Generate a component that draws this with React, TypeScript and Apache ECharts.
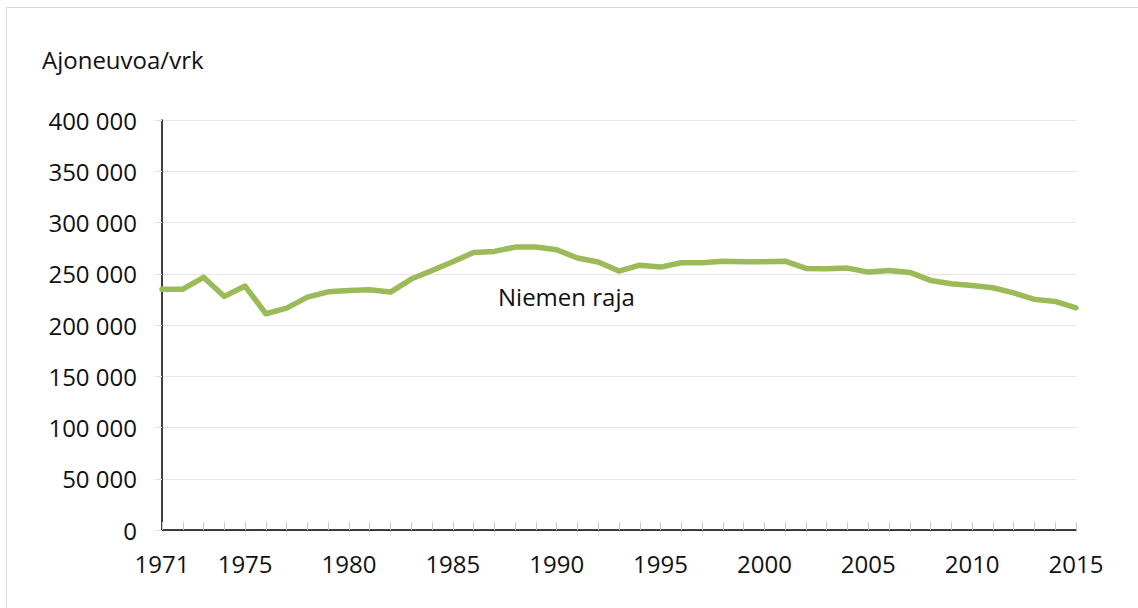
import React, { useEffect, useRef } from "react";
import * as echarts from "echarts";

const years: string[] = [];
for (let y = 1971; y <= 2015; y++) years.push(String(y));

const niemenRaja: number[] = [
  235000, 235000, 246500, 227900, 238000, 211000, 216500, 227200, 232400, 233700,
  234400, 232100, 244800, 253200, 261700, 270800, 271800, 276000, 276000, 273400,
  265300, 261400, 252600, 258400, 256500, 260700, 260700, 262300, 261700, 261700,
  262300, 255200, 254900, 255500, 251600, 253200, 251300, 243500, 240200, 238600,
  236300, 231400, 225000, 223000, 216800,
];

const seriesName = "Niemen raja";
const yAxisTitle = "Ajoneuvoa/vrk";

const FONT = "'Open Sans', 'Noto Sans', sans-serif";
const TEXT = "#111111";

function fmt(v: number): string {
  return String(v).replace(/\B(?=(\d{3})+(?!\d))/g, " ");
}

export default function App() {
  const ref = useRef<HTMLDivElement>(null);
  useEffect(() => {
    if (!ref.current) return;
    const chart = echarts.init(ref.current, undefined, { renderer: "svg" });
    chart.setOption({
      animation: false,
      backgroundColor: "#ffffff",
      grid: { left: 162, right: 62, top: 120, bottom: 78, containLabel: false },
      graphic: [
        {
          type: "rect",
          shape: { x: 6.5, y: 7.5, width: 1200, height: 700 },
          style: { fill: "none", stroke: "#d9d9d9", lineWidth: 1 },
          silent: true,
        },
        {
          type: "text",
          left: 42,
          top: 47,
          style: { text: yAxisTitle, font: `24px ${FONT}`, fill: TEXT },
        },
        {
          type: "text",
          left: 498,
          top: 284,
          style: { text: seriesName, font: `24px ${FONT}`, fill: TEXT },
        },
      ],
      xAxis: {
        type: "category",
        data: years,
        boundaryGap: false,
        axisLine: { show: true, lineStyle: { color: "#000000", width: 1.5 } },
        axisTick: {
          show: true,
          inside: true,
          length: 8,
          interval: 0,
          lineStyle: { color: "#c8c8c8", width: 1 },
        },
        axisLabel: {
          interval: (idx: number, val: string) => idx === 0 || Number(val) % 5 === 0,
          margin: 21,
          color: TEXT,
          fontFamily: FONT,
          fontSize: 24,
        },
        splitLine: { show: false },
      },
      yAxis: {
        type: "value",
        min: 0,
        max: 400000,
        interval: 50000,
        axisLine: { show: true, lineStyle: { color: "#000000", width: 1.5 } },
        axisTick: { show: true, length: 7, lineStyle: { color: "#e0e0e0" } },
        axisLabel: {
          margin: 25,
          color: TEXT,
          fontFamily: FONT,
          fontSize: 24,
          formatter: (v: number) => fmt(v),
        },
        splitLine: { show: true, lineStyle: { color: "#e6e6e6", width: 1 } },
      },
      series: [
        {
          name: seriesName,
          type: "line",
          data: niemenRaja,
          showSymbol: false,
          symbol: "none",
          lineStyle: { color: "#9BBB59", width: 5.5, join: "round", cap: "round" },
          itemStyle: { color: "#9BBB59" },
        },
      ],
    });
    return () => chart.dispose();
  }, []);
  return (
    <div
      ref={ref}
      style={{ position: "absolute", left: 0, top: 0, width: 1138, height: 608 }}
    />
  );
}
